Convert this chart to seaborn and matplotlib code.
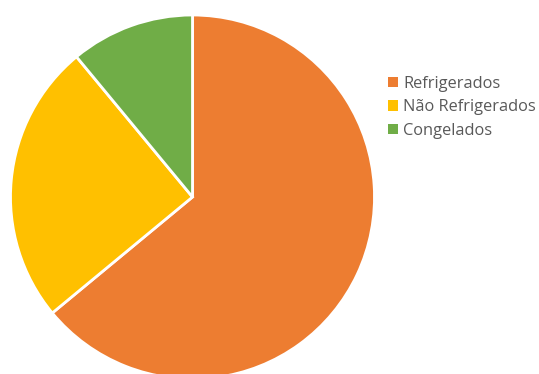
import matplotlib
matplotlib.use("Agg")
import matplotlib.pyplot as plt
import seaborn as sns

categories = ["Refrigerados", "Não Refrigerados", "Congelados"]
values = [64, 25, 11]
colors = ["#ED7D31", "#FFC000", "#70AD47"]

sns.set_theme(style="white")
plt.rcParams['font.family'] = ['Open Sans', 'DejaVu Sans']

fig = plt.figure(figsize=(5.39, 3.74), dpi=100)
W, H = 539, 374
left, right, top, bottom = 10.5, 374.5, 15, 379
ax = fig.add_axes([left / W, (H - bottom) / H, (right - left) / W, (bottom - top) / H])
wedges, _ = ax.pie(values, colors=colors, startangle=90, counterclock=False,
                   wedgeprops=dict(edgecolor="white", linewidth=2))
for w in wedges:
    w.set_clip_on(False)
ax.set_aspect("auto")
ax.set_xlim(-1, 1)
ax.set_ylim(-1, 1)
ax.axis("off")

leg = fig.legend(wedges, categories, loc="upper left",
                 bbox_to_anchor=(388 / W, (H - 76) / H), frameon=False,
                 fontsize=11.8, handlelength=0.58, handleheight=0.58,
                 handletextpad=0.36, labelspacing=0.45, borderaxespad=0,
                 borderpad=0)
for t in leg.get_texts():
    t.set_color("#595959")
for h in leg.legend_handles:
    h.set_edgecolor("none")

fig.savefig("out.png", dpi=100)
